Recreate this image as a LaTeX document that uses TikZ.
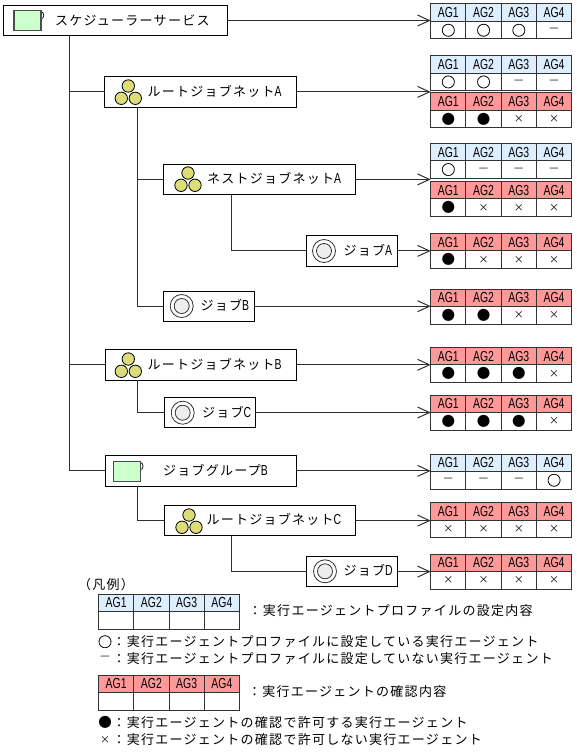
\documentclass[tikz,border=0pt]{standalone}
\usepackage{fontspec}
\usetikzlibrary{arrows.meta}
\setmainfont{Liberation Sans}
\newfontfamily\jp[LetterSpace=9.8]{Noto Sans CJK JP}
\newfontfamily\jpsym{Noto Sans CJK JP}
\newfontfamily\jpbold[FakeBold=0.5]{Noto Sans CJK JP}
\newfontfamily\hw[FakeStretch=0.72]{Liberation Sans}
\definecolor{hblue}{HTML}{DDEEFF}
\definecolor{hred}{HTML}{FF9999}
\definecolor{igreen}{HTML}{CCFFCC}
\definecolor{iyellow}{HTML}{DCDC78}
\definecolor{igrey}{HTML}{EEEEEE}
\definecolor{lin}{HTML}{303030}
\newcommand{\lat}[1]{{\fontsize{14.5pt}{14pt}\selectfont\hw #1}}
\newcommand{\mO}{{\fontsize{14pt}{14pt}\selectfont\jpbold ○}}
\newcommand{\mB}{{\fontsize{13.5pt}{14pt}\selectfont\jpsym ●}}
\newcommand{\mX}{{\fontsize{10pt}{10pt}\selectfont\jpsym ×}}
\newcommand{\mD}{{\fontsize{10.5pt}{10pt}\selectfont\jpsym —}}
\tikzset{
  x=1pt,y=-1pt,
  every node/.style={inner sep=0pt,outer sep=0pt},
  tree/.style={draw=black,fill=white,line width=1pt,minimum height=30.4pt,anchor=north west},
  wide/.style={tree,minimum width=191.7pt},
  short/.style={tree,minimum width=91pt},
  lab/.style={font=\fontsize{13pt}{13pt}\selectfont\jp,anchor=west},
  link/.style={draw=lin,line width=1.1pt},
  flow/.style={link,-{Straight Barb[length=12pt,width=11pt,line width=1pt]}},
  cell/.style={draw=black!80,line width=1pt,minimum width=35.25pt,minimum height=17.5pt,anchor=north west,font=\fontsize{14.5pt}{14pt}\selectfont\hw},
}
% \agt{name}{x}{y}{colour}{c1}{c2}{c3}{c4}
\newcommand{\agt}[8]{%
  \foreach \i/\h/\s in {0/AG1/#5,1/AG2/#6,2/AG3/#7,3/AG4/#8}{%
    \node[cell,fill=#4] (#1h\i) at ({#2+\i*35.25},#3) {\h};
    \node[cell,fill=white] (#1c\i) at ({#2+\i*35.25},{#3+17.5}) {\s};
  }%
  \coordinate (#1) at (#2,{#3+17.5});
}
\newcommand{\sched}[2]{%
  \draw[black,line width=.7pt] ({#1+27},{#2+1}) arc (-90:90:2.8 and 3.6);
  \draw[line width=1.1pt,fill=igreen,draw=black!70] (#1,#2) rectangle ({#1+27},{#2+20});
}
\newcommand{\jnet}[2]{%
  \foreach \dx/\dy in {0/-6,-7/6.3,7/6.3}{\draw[fill=iyellow,draw=black,line width=.8pt] ({#1+\dx},{#2+\dy}) circle (6.2pt);}
}
\newcommand{\jobi}[2]{%
  \draw[fill=white,draw=black!80,line width=.8pt] (#1,#2) circle (11.5pt);
  \draw[fill=igrey,draw=black!80,line width=.8pt] (#1,#2) circle (7.5pt);
}
\begin{document}
\begin{tikzpicture}
\useasboundingbox (0,0) rectangle (576,752);
% tree boxes
\node[tree,minimum width=224.4pt] (sv) at (3.3,5.3) {};
\node[wide] (ra) at (104.7,76.7) {};
\node[wide] (na) at (163.8,164.2) {};
\node[short] (ja) at (306.7,235.7) {};
\node[short] (jb) at (163.7,291) {};
\node[wide] (rb) at (105,349.6) {};
\node[short] (jc) at (164.3,397.3) {};
\node[wide] (gb) at (105,455.7) {};
\node[wide] (rc) at (164,505.4) {};
\node[short] (jd) at (306.7,556.4) {};
% labels
\node[lab] (tsv) at (55,20) {スケジューラーサービス};
\node[lab] (tra) at (147.5,91) {ルートジョブネット\lat{A}};
\node[lab] (tna) at (207,178.5) {ネストジョブネット\lat{A}};
\node[lab] (tja) at (343.5,250) {ジョブ\lat{A}};
\node[lab] (tjb) at (200.5,305.5) {ジョブ\lat{B}};
\node[lab] (trb) at (147.5,364.5) {ルートジョブネット\lat{B}};
\node[lab] (tjc) at (202,412) {ジョブ\lat{C}};
\node[lab] (tgb) at (163,470.5) {ジョブグループ\lat{B}};
\node[lab] (trc) at (206.5,519.5) {ルートジョブネット\lat{C}};
\node[lab] (tjd) at (343.5,570.5) {ジョブ\lat{D}};
% icons
\sched{14}{10.7}
\jnet{128.3}{92}
\jnet{188}{179}
\jobi{324}{251}
\jobi{181.7}{306}
\jnet{128.3}{365}
\jobi{182.7}{412.7}
\sched{113.3}{461.5}
\jnet{189}{521}
\jobi{325}{571.3}
% tables
\agt{t1}{430.7}{4}{hblue}{\mO}{\mO}{\mO}{\mD}
\agt{t2}{430.7}{55.7}{hblue}{\mO}{\mO}{\mD}{\mD}
\agt{t2r}{430.7}{92.7}{hred}{\mB}{\mB}{\mX}{\mX}
\agt{t3}{430.7}{143.3}{hblue}{\mO}{\mD}{\mD}{\mD}
\agt{t3r}{430.7}{181.3}{hred}{\mB}{\mX}{\mX}{\mX}
\agt{t4}{430.7}{233.3}{hred}{\mB}{\mX}{\mX}{\mX}
\agt{t5}{430.7}{289}{hred}{\mB}{\mB}{\mX}{\mX}
\agt{t6}{430.7}{347.3}{hred}{\mB}{\mB}{\mB}{\mX}
\agt{t7}{430.7}{395}{hred}{\mB}{\mB}{\mB}{\mX}
\agt{t8}{430.7}{454}{hblue}{\mD}{\mD}{\mD}{\mO}
\agt{t9}{430.7}{502.7}{hred}{\mX}{\mX}{\mX}{\mX}
\agt{t10}{430.7}{554}{hred}{\mX}{\mX}{\mX}{\mX}
% connectors: tree
\coordinate (svb) at ([xshift=66pt]sv.south west);
\coordinate (rab) at ([xshift=32.6pt]ra.south west);
\coordinate (nab) at ([xshift=67.6pt]na.south west);
\coordinate (rbb) at ([xshift=32.3pt]rb.south west);
\coordinate (gbb) at ([xshift=32.3pt]gb.south west);
\coordinate (rcb) at ([xshift=67.6pt]rc.south west);
\draw[link] (svb) |- (gb.west);
\draw[link] (svb |- ra.west) -- (ra.west);
\draw[link] (svb |- rb.west) -- (rb.west);
\draw[link] (rab) |- (jb.west);
\draw[link] (rab |- na.west) -- (na.west);
\draw[link] (nab) |- (ja.west);
\draw[link] (rbb) |- (jc.west);
\draw[link] (gbb) |- (rc.west);
\draw[link] (rcb) |- (jd.west);
% connectors: arrows
\draw[flow] (sv.east) -- (sv.east -| t1);
\draw[flow] (ra.east) -- (ra.east -| t2);
\draw[flow] (na.east) -- (na.east -| t3);
\draw[flow] (ja.east) -- (ja.east -| t4);
\draw[flow] (jb.east) -- (jb.east -| t5);
\draw[flow] (rb.east) -- (rb.east -| t6);
\draw[flow] (jc.east) -- (jc.east -| t7);
\draw[flow] (gb.east) -- (gb.east -| t8);
\draw[flow] (rc.east) -- (rc.east -| t9);
\draw[flow] (jd.east) -- (jd.east -| t10);
% legend
\node[lab] (lg) at (78,585) {（凡例）};
\agt{l1}{98.5}{594}{hblue}{}{}{}{}
\agt{l2}{98.5}{675}{hred}{}{}{}{}
\node[lab] (l1t) at (248.7,611) {：実行エージェントプロファイルの設定内容};
\node[lab] (l2t) at (248,692) {：実行エージェントの確認内容};
\node (s1) at (105,641.7) {\mO};
\node (s2) at (105,658.3) {\mD};
\node (s3) at (105,722.7) {\mB};
\node (s4) at (105,740) {\mX};
\node[lab] (a1) at (112.5,641.7) {：実行エージェントプロファイルに設定している実行エージェント};
\node[lab] (a2) at (112.5,658.3) {：実行エージェントプロファイルに設定していない実行エージェント};
\node[lab] (a3) at (112.5,722.7) {：実行エージェントの確認で許可する実行エージェント};
\node[lab] (a4) at (112.5,740) {：実行エージェントの確認で許可しない実行エージェント};
\end{tikzpicture}
\end{document}
